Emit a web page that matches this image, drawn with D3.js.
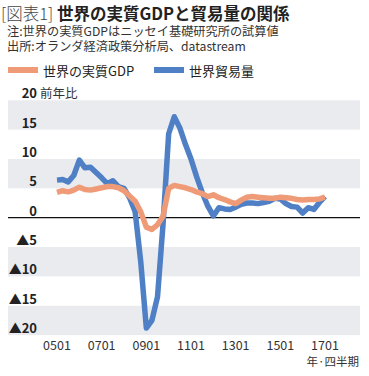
<!DOCTYPE html>
<html><head><meta charset="utf-8">
<script src="https://cdn.jsdelivr.net/npm/d3@7"></script>
<style>
html,body{margin:0;padding:0;background:#fff;}
svg{display:block;font-family:"Noto Sans CJK JP","Noto Sans",sans-serif;}
</style></head>
<body><svg id="c" width="369" height="376"></svg>
<script>
const quarters = ["0501","0502","0503","0504","0601","0602","0603","0604","0701","0702","0703","0704",
"0801","0802","0803","0804","0901","0902","0903","0904","1001","1002","1003","1004",
"1101","1102","1103","1104","1201","1202","1203","1204","1301","1302","1303","1304",
"1401","1402","1403","1404","1501","1502","1503","1504","1601","1602","1603","1604","1701"];
const gdp = [4.3,4.6,4.4,4.7,5.2,4.8,4.7,4.9,5.1,5.3,5.3,5.1,4.6,3.7,2.8,1.0,-1.6,-2.0,-1.2,0.3,
5.0,5.5,5.3,5.1,4.8,4.4,4.1,3.6,3.9,3.4,3.1,2.7,2.4,3.0,3.5,3.6,3.5,3.4,3.3,3.3,3.5,3.4,3.3,3.1,3.0,3.1,3.1,3.2,3.5];
const trade = [6.4,6.5,6.1,7.2,9.8,8.5,8.6,7.7,6.8,5.8,6.3,5.3,5.0,3.4,1.0,-7.5,-18.8,-17.5,-13.5,-1.0,
14.3,17.2,15.3,12.5,10.0,7.0,4.3,2.0,0.3,1.7,1.5,1.4,1.8,2.3,2.5,2.5,2.4,2.6,2.8,3.3,3.2,2.4,1.9,1.8,0.8,1.7,1.4,2.6,3.6];
const xTickLabels = ["0501","0701","0901","1101","1301","1501","1701"];
const yTickValues = [20,15,10,5,0,-5,-10,-15,-20];
const yTickLabels = ["20","15","10","5","0","▲5","▲10","▲15","▲20"];
const seriesNames = ["世界の実質GDP","世界貿易量"];
const colors = ["#ef9b78","#4f80c6"];

const svg = d3.select("#c");
const x = d3.scalePoint().domain(quarters).range([57,325]);
const y = d3.scaleLinear().domain([-20,20]).range([335.1,100.3]);
const left = 8, right = 360;

// bands
const bands = [[15,20],[5,10],[-10,-5],[-20,-15]];
svg.append("g").selectAll("rect").data(bands).join("rect")
  .attr("x",left).attr("width",right-left)
  .attr("y",d=>y(d[1])).attr("height",d=>y(d[0])-y(d[1]))
  .attr("fill","#e9ebee");

// zero line
svg.append("line").attr("x1",left).attr("x2",right).attr("y1",y(0)).attr("y2",y(0))
  .attr("stroke","#111").attr("stroke-width",1.3);

// y labels
svg.append("g").selectAll("text").data(yTickValues).join("text")
  .attr("x",37).attr("y",d=>y(d)-7.5)
  .attr("text-anchor","end").attr("dominant-baseline","central")
  .attr("font-size",13).attr("font-weight","bold").attr("fill","#222")
  .text((d,i)=>yTickLabels[i]);
svg.append("text").attr("x",40).attr("y",y(20)-7.5).attr("dominant-baseline","central")
  .attr("font-size",12.5).attr("fill","#333").text("前年比");

// x labels
svg.append("g").selectAll("text").data(xTickLabels).join("text")
  .attr("x",d=>x(d)).attr("y",344).attr("text-anchor","middle").attr("dominant-baseline","central")
  .attr("font-size",12.5).attr("fill","#333").text(d=>d);
svg.append("text").attr("x",359).attr("y",361).attr("text-anchor","end").attr("dominant-baseline","central")
  .attr("font-size",11.5).attr("fill","#333").text("年·四半期");

// lines
const line = d3.line().x((d,i)=>x(quarters[i])).y(d=>y(d));
svg.append("path").datum(trade).attr("d",line).attr("fill","none")
  .attr("stroke",colors[1]).attr("stroke-width",5.5).attr("stroke-linejoin","round");
svg.append("path").datum(gdp).attr("d",line).attr("fill","none")
  .attr("stroke",colors[0]).attr("stroke-width",5.5).attr("stroke-linejoin","round");

// title
const t = svg.append("text").attr("x",1).attr("y",12.5).attr("dominant-baseline","central").attr("font-size",16.5);
t.append("tspan").attr("fill","#444").attr("font-weight","300").text("[図表1] ");
t.append("tspan").attr("fill","#222").attr("font-weight","bold").text("世界の実質GDPと貿易量の関係");
svg.append("text").attr("x",7).attr("y",30.5).attr("dominant-baseline","central").attr("font-size",12.2)
  .attr("fill","#333").text("注:世界の実質GDPはニッセイ基礎研究所の試算値");
svg.append("text").attr("x",7).attr("y",46).attr("dominant-baseline","central").attr("font-size",12.2)
  .attr("fill","#333").text("出所:オランダ経済政策分析局、datastream");

// legend
const lx = [8,154];
const lg = svg.append("g").selectAll("g").data(seriesNames).join("g")
  .attr("transform",(d,i)=>`translate(${lx[i]},0)`);
lg.append("rect").attr("x",0).attr("y",67).attr("width",30).attr("height",6).attr("fill",(d,i)=>colors[i]);
lg.append("text").attr("x",35).attr("y",70).attr("dominant-baseline","central").attr("font-size",13)
  .attr("fill","#222").text(d=>d);
</script></body></html>
